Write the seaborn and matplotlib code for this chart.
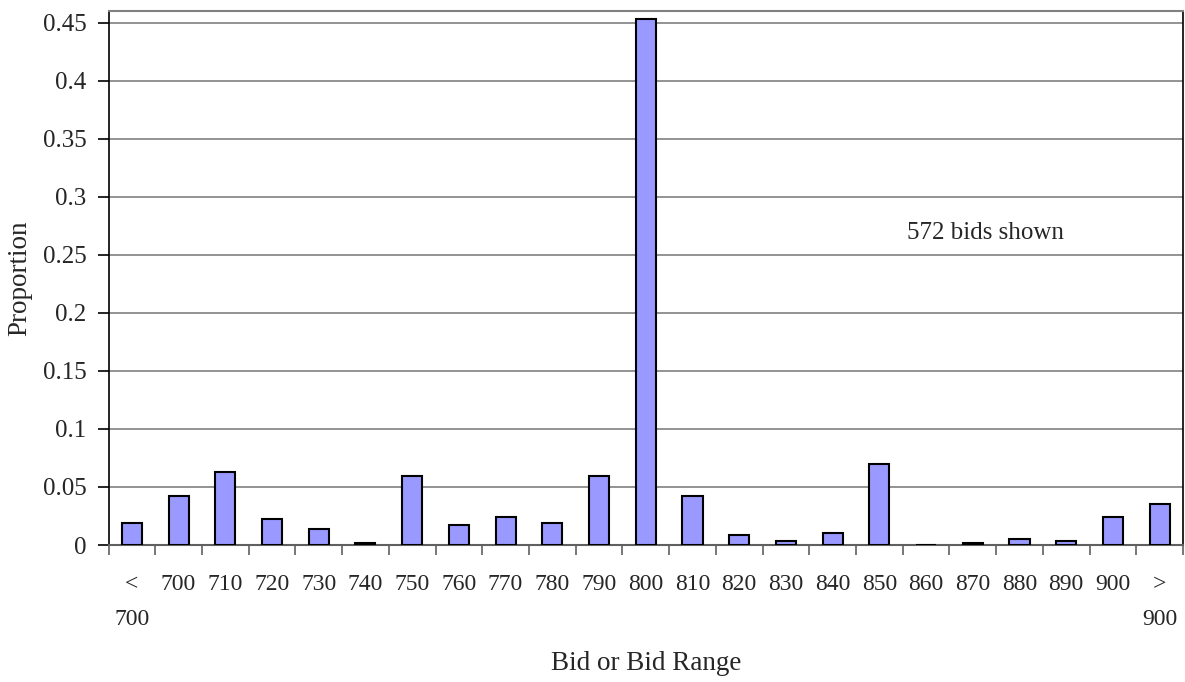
import matplotlib
matplotlib.use("Agg")
import matplotlib.pyplot as plt
import seaborn as sns
import numpy as np
import pandas as pd

categories = ["<\n700", "700", "710", "720", "730", "740", "750", "760", "770", "780",
              "790", "800", "810", "820", "830", "840", "850", "860", "870", "880",
              "890", "900", ">\n900"]
proportions = [0.0192, 0.0420, 0.0629, 0.0227, 0.0140, 0.0017, 0.0594, 0.0175, 0.0245,
               0.0192, 0.0594, 0.4528, 0.0420, 0.0087, 0.0035, 0.0105, 0.0699, 0.0,
               0.0017, 0.0052, 0.0035, 0.0245, 0.0350]
y_ticks = [0, 0.05, 0.1, 0.15, 0.2, 0.25, 0.3, 0.35, 0.4, 0.45]
y_tick_labels = ["0", "0.05", "0.1", "0.15", "0.2", "0.25", "0.3", "0.35", "0.4", "0.45"]
annotation = "572 bids shown"

sns.set_theme(style="white")
plt.rcParams['font.family'] = ['Liberation Serif', 'DejaVu Serif']

df = pd.DataFrame({"cat": categories, "prop": proportions})

W, H = 1185, 682
L, R, T, B = 108.5, 1183, 11, 545
fig = plt.figure(figsize=(W / 100, H / 100), dpi=100)
ax = fig.add_axes([L / W, 1 - B / H, (R - L) / W, (B - T) / H])

sns.barplot(data=df, x="cat", y="prop", order=categories, color="#9999FF", saturation=1,
            width=0.43, edgecolor="black", linewidth=1.5, ax=ax, zorder=3)

ax.set_xlim(-0.5, len(categories) - 0.5)
ax.set_ylim(0, 0.46)
ax.set_yticks(y_ticks)
ax.set_yticklabels(y_tick_labels, fontsize=18)
ax.yaxis.grid(True, color="#808080", linewidth=1.2, zorder=0)
ax.set_axisbelow(True)

ax.set_xticks(range(len(categories)))
ax.set_xticklabels(categories, fontsize=17, linespacing=1.85)
ax.set_xticks(np.arange(-0.5, len(categories), 1.0), minor=True)
ax.tick_params(axis="x", which="major", length=0, pad=21)
ax.tick_params(axis="x", which="minor", length=7, width=1.2, color="#606060", direction="out", bottom=True)
ax.tick_params(axis="y", which="major", length=8, width=1.2, color="black", direction="out", left=True, pad=8)

ax.spines["top"].set_color("#808080")
ax.spines["top"].set_linewidth(1.5)
ax.spines["left"].set_color("black")
ax.spines["left"].set_linewidth(1.2)
ax.spines["right"].set_color("black")
ax.spines["right"].set_linewidth(1.2)
ax.spines["bottom"].set_color("#606060")
ax.spines["bottom"].set_linewidth(1.5)

ax.set_xlabel("Bid or Bid Range", fontsize=19.5)
ax.xaxis.set_label_coords(0.5, (B - 670) / (B - T))
ax.xaxis.label.set_va("baseline")
ax.set_ylabel("Proportion", fontsize=19.5)
ax.yaxis.set_label_coords((20 - L) / (R - L), 0.5)
ax.yaxis.label.set_va("center")

ax.text((906.7 - L) / (R - L), (B - 239) / (B - T), annotation, transform=ax.transAxes,
        fontsize=18, ha="left", va="baseline")

fig.savefig("out.png", dpi=100)
